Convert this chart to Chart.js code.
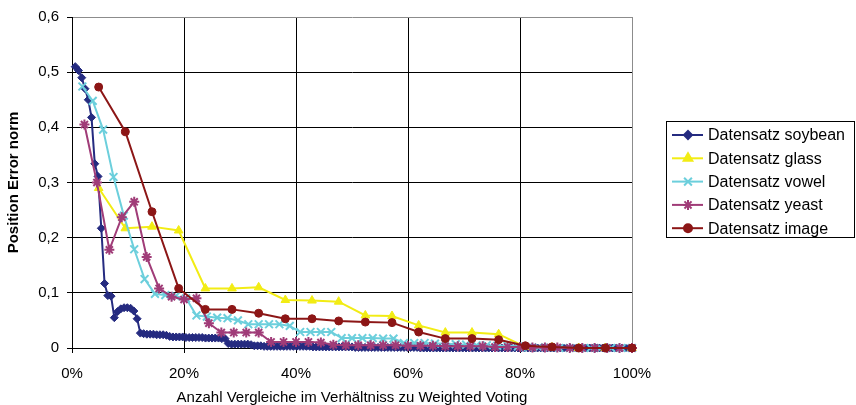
<!DOCTYPE html>
<html>
<head>
<meta charset="utf-8">
<script src="https://cdn.jsdelivr.net/npm/chart.js@4.4.1/dist/chart.umd.min.js"></script>
<style>
    body { margin: 0; background: #fff; }
    #wrap { width: 856px; height: 405px; }
</style>
</head>
<body>
<div id="wrap"><canvas id="errorChart" width="856" height="405"></canvas></div>
<script>
// series names (legend order)
const seriesNames = ['Datensatz soybean', 'Datensatz glass', 'Datensatz vowel', 'Datensatz yeast', 'Datensatz image'];

// tick values
const xTicks = [0, 20, 40, 60, 80, 100];
const yTicks = [0, 0.1, 0.2, 0.3, 0.4, 0.5, 0.6];

// position error per step (x = step / number of steps)
const soybean = [
    0.51, 0.503, 0.49, 0.47, 0.45, 0.418, 0.334, 0.311, 0.217, 0.117,
    0.095, 0.094, 0.055, 0.066, 0.071, 0.073, 0.073, 0.072, 0.067, 0.053, 0.027,
    0.026, 0.025, 0.025, 0.025, 0.024, 0.024, 0.024, 0.023,
    0.021, 0.02, 0.02, 0.02, 0.02, 0.019, 0.019, 0.019, 0.019, 0.019,
    0.019, 0.018, 0.018, 0.018, 0.018, 0.018, 0.017, 0.017,
    0.008, 0.007, 0.007, 0.007, 0.007, 0.007, 0.007, 0.006,
    0.004, 0.004, 0.004, 0.003, 0.003, 0.003, 0.003, 0.003, 0.003, 0.003,
    0.003, 0.003, 0.003, 0.003, 0.003, 0.003, 0.003, 0.003, 0.002, 0.002,
    0.002, 0.002, 0.002, 0.002, 0.002, 0.002, 0.002, 0.002, 0.002, 0.002, 0.002,
    0.001, 0.001, 0.001, 0.001, 0.001, 0.001, 0.001, 0.001, 0.001, 0.001,
    0.001, 0.001, 0.001, 0.001, 0.001, 0.001, 0.001, 0.001, 0.001, 0.001,
    0, 0, 0, 0, 0, 0, 0, 0, 0, 0, 0,
    0, 0, 0, 0, 0, 0, 0, 0, 0, 0, 0,
    0, 0, 0, 0, 0, 0, 0, 0, 0, 0, 0,
    0, 0, 0, 0, 0, 0, 0, 0, 0, 0, 0,
    0, 0, 0, 0, 0, 0, 0, 0, 0, 0, 0,
    0, 0, 0, 0, 0, 0, 0, 0, 0, 0, 0
];
const glass = [
    0.29, 0.217, 0.22, 0.213, 0.108, 0.108, 0.11, 0.087, 0.086, 0.084,
    0.059, 0.058, 0.041, 0.028, 0.028, 0.025, 0.002, 0.001, 0, 0, 0
];
const vowel = [
    0.474, 0.448, 0.396, 0.31, 0.24, 0.179, 0.125, 0.098, 0.096, 0.094,
    0.09, 0.059, 0.057, 0.055, 0.054, 0.05, 0.043, 0.043, 0.043, 0.043,
    0.04, 0.029, 0.029, 0.029, 0.029, 0.018, 0.018, 0.018, 0.018, 0.017,
    0.017, 0.009, 0.009, 0.009, 0.008, 0.008, 0.007, 0.006, 0.005, 0.005,
    0.004, 0.004, 0.003, 0.001, 0.001, 0.001, 0, 0, 0, 0,
    0, 0, 0, 0
];
const yeast = [
    0.405, 0.30, 0.178, 0.237, 0.265, 0.165, 0.108, 0.093, 0.088, 0.09,
    0.045, 0.028, 0.028, 0.028, 0.028, 0.011, 0.011, 0.011, 0.011, 0.010,
    0.006, 0.005, 0.005, 0.005, 0.005, 0.005, 0.004, 0.004, 0.004, 0.003,
    0.003, 0.003, 0.003, 0.002, 0.002, 0.002, 0.001, 0.001, 0.001, 0,
    0, 0, 0, 0, 0
];
const image = [
    0.473, 0.392, 0.247, 0.108, 0.07, 0.07, 0.063, 0.053, 0.053, 0.049,
    0.047, 0.046, 0.029, 0.017, 0.017, 0.015, 0.004, 0.002, 0, 0, 0
];

const seriesValues = [soybean, glass, vowel, yeast, image];
const colors = ['#252b80', '#f2ec14', '#6ccfdc', '#a03c78', '#8c1616'];
const markers = ['rectRot', 'triangle', 'crossRot', 'star', 'circle'];
const markerSize = [4, 5, 5.5, 5, 4];

Chart.defaults.font.family = "'Liberation Sans', Arial, sans-serif";
Chart.defaults.font.size = 15;
Chart.defaults.color = '#000';

// step i of n -> percent of weighted voting comparisons
function toPoints(vals) {
    return vals.map(function (v, i) {
        return { x: (i + 1) * 100 / vals.length, y: v };
    });
}

let datasets = seriesValues.map(function (vals, i) {
    return {
        label: seriesNames[i],
        data: toPoints(vals),
        borderColor: colors[i],
        backgroundColor: colors[i],
        borderWidth: 2,
        pointStyle: markers[i],
        pointRadius: markerSize[i],
        pointBorderWidth: (markers[i] == 'crossRot' || markers[i] == 'star') ? 2 : 1,
        tension: 0,
        clip: false,
        order: 5 - i
    };
});

// legend with a box, drawn like the excel one
const boxLegend = {
    id: 'boxLegend',
    afterDraw(chart) {
        const c = chart.ctx;
        c.save();
        c.strokeStyle = '#000';
        c.lineWidth = 1;
        c.strokeRect(666.5, 121.5, 188, 116);
        chart.data.datasets.forEach(function (ds, i) {
            let y = 135 + i * 23.3;
            c.strokeStyle = ds.borderColor;
            c.fillStyle = ds.backgroundColor;
            c.lineWidth = 2;
            c.beginPath();
            c.moveTo(672, y);
            c.lineTo(703, y);
            c.stroke();
            Chart.helpers.drawPoint(c, {
                pointStyle: ds.pointStyle,
                radius: ds.pointRadius,
                borderWidth: ds.pointBorderWidth,
                rotation: 0
            }, 688, y);
            c.fillStyle = '#000';
            c.font = "16px 'Liberation Sans', Arial, sans-serif";
            c.textBaseline = 'middle';
            c.textAlign = 'left';
            c.fillText(ds.label, 708, y + 1);
        });
        c.restore();
    }
};

let chartData = {
    type: 'line',
    data: { datasets: datasets },
    options: {
        responsive: false,
        animation: false,
        layout: { padding: { left: 0, top: 10, right: 224, bottom: 0 } },
        plugins: {
            legend: { display: false },
            tooltip: { enabled: false }
        },
        scales: {
            x: {
                type: 'linear',
                min: 0,
                max: 100,
                afterBuildTicks: function (s) { s.ticks = xTicks.map(v => ({ value: v })); },
                afterFit: function (s) { s.height = 57; },
                ticks: {
                    padding: 12,
                    maxRotation: 0,
                    callback: v => v + '%'
                },
                grid: {
                    color: c => c.tick && c.tick.value == 100 ? '#8c8c8c' : '#000',
                    tickColor: '#000',
                    tickLength: 5
                },
                border: { color: '#000', width: 1 },
                title: {
                    display: true,
                    text: 'Anzahl Vergleiche im Verhältniss zu Weighted Voting',
                    font: { size: 15, lineHeight: 1 },
                    padding: { top: 0, bottom: 0 }
                }
            },
            y: {
                min: 0,
                max: 0.6,
                afterBuildTicks: function (s) { s.ticks = yTicks.map(v => ({ value: v })); },
                afterFit: function (s) { s.width = 72; },
                ticks: {
                    padding: 8,
                    callback: v => v == 0 ? '0' : v.toFixed(1).replace('.', ',')
                },
                grid: {
                    color: c => c.tick && c.tick.value == 0.6 ? '#8c8c8c' : '#000',
                    tickColor: '#000',
                    tickLength: 5
                },
                border: { color: '#000', width: 1 },
                title: {
                    display: true,
                    text: 'Position Error norm',
                    font: { size: 15, weight: 'bold', lineHeight: 1.2 },
                    padding: { top: 5, bottom: 0 }
                }
            }
        }
    },
    plugins: [boxLegend]
};

let errorChart = new Chart(document.getElementById('errorChart').getContext('2d'), chartData);
</script>
</body>
</html>
